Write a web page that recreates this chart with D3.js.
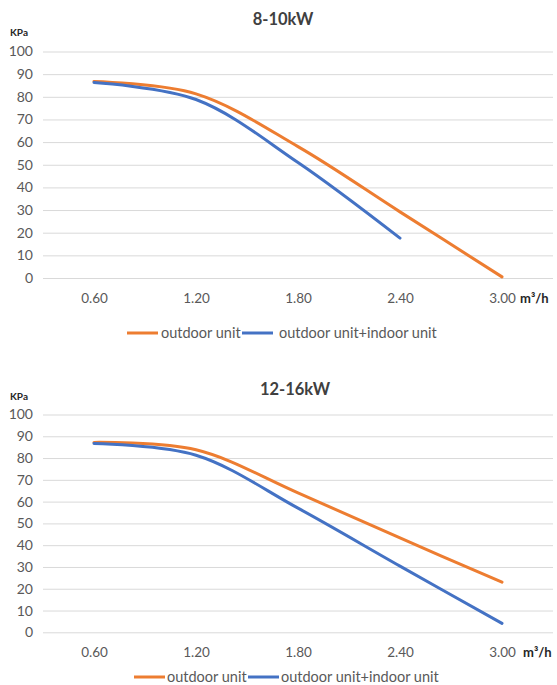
<!DOCTYPE html>
<html>
<head>
<meta charset="utf-8">
<script src="https://cdn.jsdelivr.net/npm/d3@7"></script>
<style>
  html, body { margin: 0; padding: 0; background: #fff; }
  svg { display: block; }
  text { font-family: Lato, "Open Sans", sans-serif; }
</style>
</head>
<body>
<svg id="chart" width="557" height="685"></svg>
<script>
// ---- data ----
const categories = ["0.60", "1.20", "1.80", "2.40", "3.00"];
const yTicks = [0, 10, 20, 30, 40, 50, 60, 70, 80, 90, 100];
const seriesNames = ["outdoor unit", "outdoor unit+indoor unit"];
const titles = ["8-10kW", "12-16kW"];
const xUnit = "m³/h";
const yUnit = "KPa";

const small_outdoor = [86.8, 81.3, 58.0, 29.2, 0.5];
const small_combined = [86.3, 78.8, 51.0, 17.6];
const large_outdoor = [87.2, 83.8, 64.0, 43.3, 23.0];
const large_combined = [86.7, 81.3, 57.0, 30.4, 4.1];

const colors = ["#ED7D31", "#4472C4"];

// ---- layout ----
const svg = d3.select("#chart");
const panels = [
  { title: titles[0], series: [small_outdoor, small_combined], y0: 278, y100: 51.5, titleX: 283, titleY: 25, unitY: 36, tickY: 303, legendY: 333, legendX: [127, 161, 242, 279], xUnitX: 520 },
  { title: titles[1], series: [large_outdoor, large_combined], y0: 632.3, y100: 414.5, titleX: 295, titleY: 395, unitY: 400, tickY: 657, legendY: 677, legendX: [134, 167, 248, 281], xUnitX: 523 }
];

const x = d3.scalePoint().domain(categories).range([43, 553]).padding(0.5);

panels.forEach(p => {
  const g = svg.append("g");
  const y = d3.scaleLinear().domain([0, 100]).range([p.y0, p.y100]);

  // title
  g.append("text").attr("x", p.titleX).attr("y", p.titleY)
    .attr("text-anchor", "middle").attr("font-size", 16.5).attr("font-weight", "bold")
    .attr("fill", "#404040").text(p.title);

  // y unit
  g.append("text").attr("x", 10).attr("y", p.unitY)
    .attr("font-size", 10).attr("font-weight", "bold").attr("fill", "#262626").text(yUnit);

  // gridlines + y labels
  const yAxis = d3.axisLeft(y).tickValues(yTicks).tickSize(-510).tickPadding(10).tickFormat(d3.format("d"));
  const ya = g.append("g").attr("transform", "translate(43,0)").call(yAxis);
  ya.select(".domain").remove();
  ya.selectAll(".tick line").attr("stroke", "#d9d9d9").attr("stroke-width", 1);
  ya.selectAll(".tick text").attr("fill", "#595959").attr("font-size", 14)
    .attr("font-family", "Lato, 'Open Sans', sans-serif").attr("x", -10);

  // x labels
  const xAxis = d3.axisBottom(x).tickSize(0).tickPadding(0);
  const xa = g.append("g").attr("transform", `translate(0,${p.tickY - 10})`).call(xAxis);
  xa.select(".domain").remove();
  xa.selectAll(".tick text").attr("fill", "#595959").attr("font-size", 13.5)
    .attr("font-family", "Lato, 'Open Sans', sans-serif").attr("dy", 0).attr("y", 10);

  g.append("text").attr("x", p.xUnitX).attr("y", p.tickY)
    .attr("font-size", 13).attr("font-weight", "bold").attr("fill", "#262626").text(xUnit);

  // lines
  const line = d3.line()
    .x((d, i) => x(categories[i]))
    .y(d => y(d))
    .curve(d3.curveCatmullRom.alpha(0.5));
  p.series.forEach((s, si) => {
    g.append("path").datum(s).attr("d", line)
      .attr("fill", "none").attr("stroke", colors[si]).attr("stroke-width", 3)
      .attr("stroke-linecap", "round").attr("stroke-linejoin", "round");
  });

  // legend
  seriesNames.forEach((name, si) => {
    const sx = p.legendX[si * 2];
    const tx = p.legendX[si * 2 + 1];
    g.append("line").attr("x1", sx).attr("x2", sx + 31).attr("y1", p.legendY).attr("y2", p.legendY)
      .attr("stroke", colors[si]).attr("stroke-width", 3);
    g.append("text").attr("x", tx).attr("y", p.legendY + 5)
      .attr("font-size", 14.5).attr("fill", "#595959").text(name);
  });
});
</script>
</body>
</html>
